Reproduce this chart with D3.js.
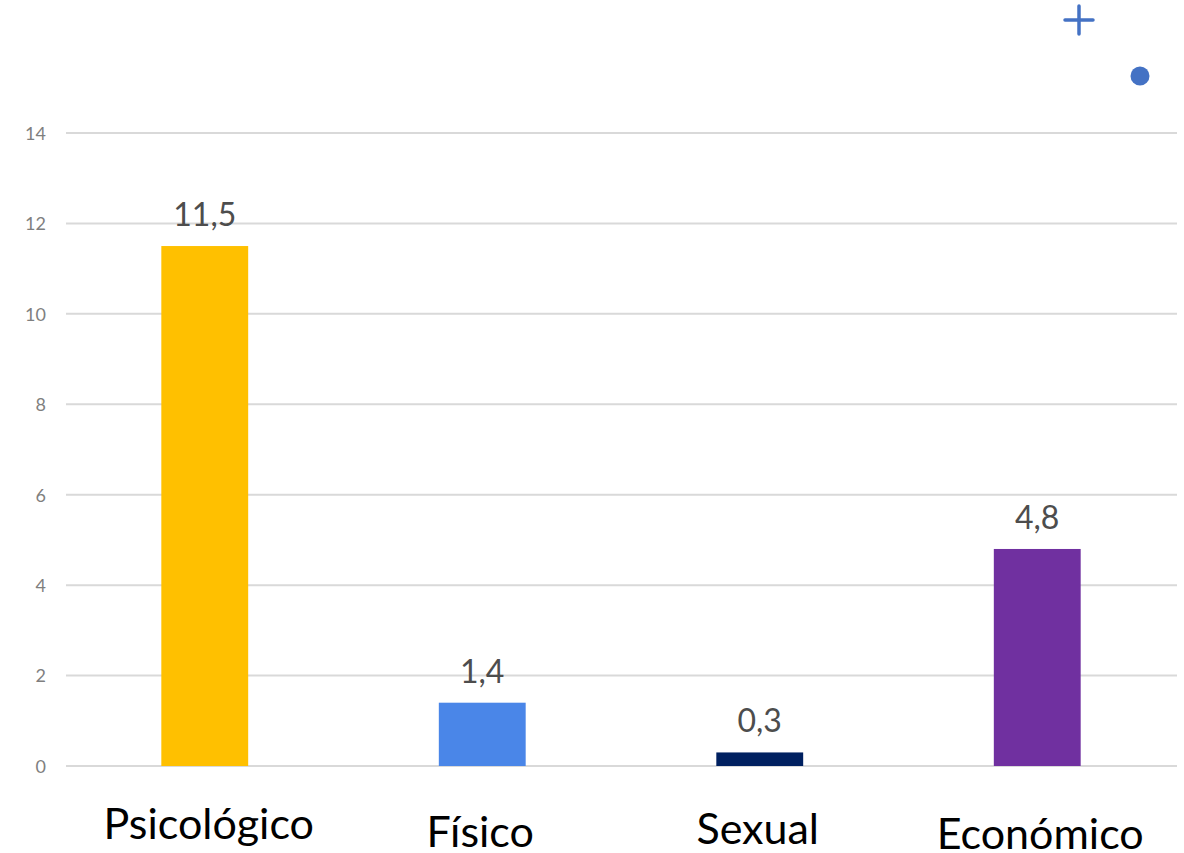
<!DOCTYPE html>
<html><head><meta charset="utf-8">
<script src="https://cdn.jsdelivr.net/npm/d3@7"></script>
<style>body{margin:0;background:#fff}svg{display:block}</style>
</head><body>
<svg id="c" width="1184" height="853"></svg>
<script>
const categories = ["Psicológico", "Físico", "Sexual", "Económico"];
const values = [11.5, 1.4, 0.3, 4.8];
const valueLabels = ["11,5", "1,4", "0,3", "4,8"];
const colors = ["#ffc000", "#4a86e8", "#002060", "#7030a0"];
const yTicks = [0, 2, 4, 6, 8, 10, 12, 14];
const labelDx = [4, -2, -2, 3];
const labelDy = [0, 8, 5, 10];

const svg = d3.select("#c");
const x = d3.scaleBand().domain(categories).range([66, 1176]).paddingInner(0.687).paddingOuter(0.3435);
const y = d3.scaleLinear().domain([0, 14]).range([766, 133]);

// gridlines
svg.append("g").selectAll("line").data(yTicks).join("line")
  .attr("x1", 66).attr("x2", 1177)
  .attr("y1", d => y(d)).attr("y2", d => y(d))
  .attr("stroke", "#d9d9d9").attr("stroke-width", 2);

// y axis labels
const yAxis = d3.axisLeft(y).tickValues(yTicks).tickSize(0).tickPadding(0).tickFormat(d3.format("d"));
const ga = svg.append("g").attr("transform", "translate(46,0)").call(yAxis);
ga.select(".domain").remove();
ga.selectAll("text").attr("font-family", "Lato").attr("font-size", 18).attr("fill", "#7f7f7f").attr("dy", "0.35em");

// bars
svg.append("g").selectAll("rect").data(values).join("rect")
  .attr("x", (d, i) => x(categories[i]))
  .attr("width", x.bandwidth())
  .attr("y", d => y(d))
  .attr("height", d => y(0) - y(d))
  .attr("fill", (d, i) => colors[i]);

// value labels
svg.append("g").selectAll("text").data(values).join("text")
  .attr("x", (d, i) => x(categories[i]) + x.bandwidth() / 2)
  .attr("y", d => y(d) - 20)
  .attr("text-anchor", "middle")
  .attr("font-family", "Lato").attr("font-size", 32).attr("fill", "#4d4d4d")
  .text((d, i) => valueLabels[i]);

// category labels
svg.append("g").selectAll("text").data(categories).join("text")
  .attr("x", (d, i) => x(d) + x.bandwidth() / 2 + labelDx[i])
  .attr("y", (d, i) => 839 + labelDy[i])
  .attr("text-anchor", "middle")
  .attr("font-family", "Lato").attr("font-size", 43).attr("fill", "#000")
  .text(d => d);

// decorative icons
const deco = svg.append("g").attr("stroke", "#4472c4").attr("stroke-width", 3.5).attr("stroke-linecap", "round");
deco.append("line").attr("x1", 1065).attr("x2", 1093).attr("y1", 20).attr("y2", 20);
deco.append("line").attr("x1", 1079).attr("x2", 1079).attr("y1", 6).attr("y2", 34);
svg.append("circle").attr("cx", 1140).attr("cy", 76).attr("r", 9.5).attr("fill", "#4472c4");
</script>
</body></html>
